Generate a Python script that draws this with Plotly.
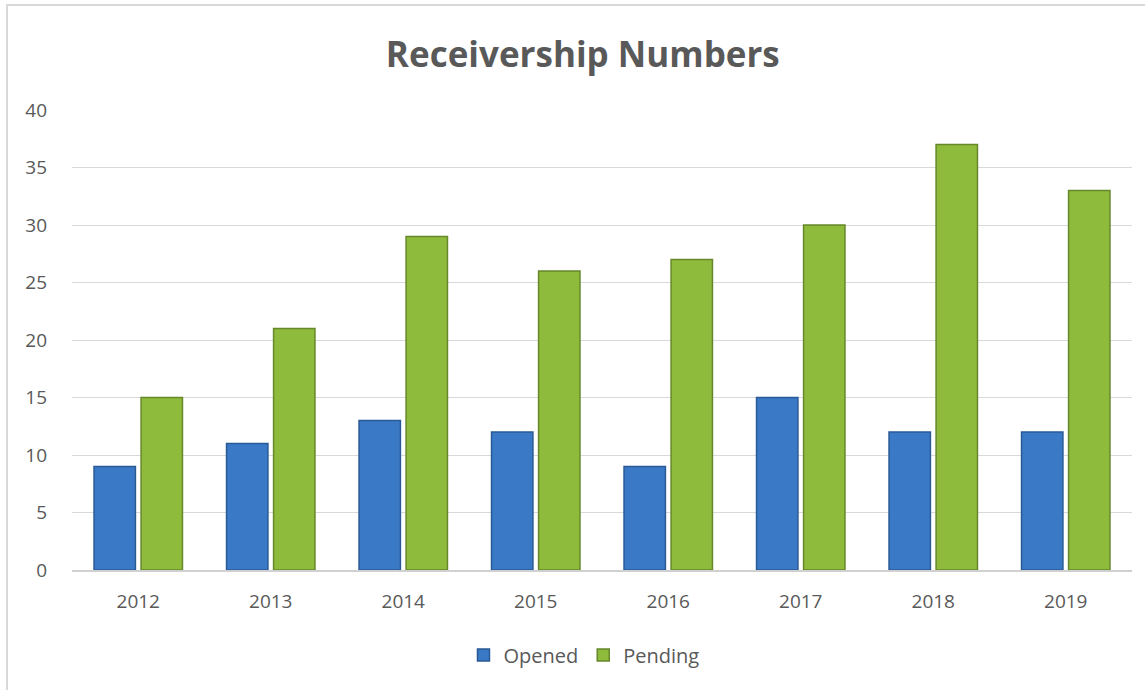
import plotly.graph_objects as go

years = ["2012", "2013", "2014", "2015", "2016", "2017", "2018", "2019"]
opened = [9, 11, 13, 12, 9, 15, 12, 12]
pending = [15, 21, 29, 26, 27, 30, 37, 33]

fig = go.Figure()
fig.add_trace(go.Bar(
    name="Opened", x=years, y=opened,
    marker=dict(color="#3a79c6", line=dict(color="#2a5a96", width=1.5)),
))
fig.add_trace(go.Bar(
    name="Pending", x=years, y=pending,
    marker=dict(color="#8fbb3d", line=dict(color="#66882a", width=1.5)),
))

fig.update_layout(
    width=1145, height=690,
    margin=dict(l=72, r=13, t=110, b=120),
    paper_bgcolor="white", plot_bgcolor="white",
    font=dict(family="Open Sans", color="#595959", size=19),
    title=dict(text="<b>Receivership Numbers</b>", x=0.509, xanchor="center",
               y=0.92, yanchor="middle", font=dict(size=35, color="#595959")),
    barmode="group", bargap=0.29, bargroupgap=0.12,
    showlegend=True,
    legend=dict(orientation="h", x=0.483, xanchor="center", y=-0.185, yanchor="middle",
                font=dict(size=20, color="#595959"), itemwidth=30),
    xaxis=dict(showgrid=False, showline=True, linecolor="#d0d0d0", linewidth=1.5,
               ticks="", ticklabelstandoff=13, tickfont=dict(size=19, color="#595959")),
    yaxis=dict(range=[0, 40], dtick=5, showgrid=True, gridcolor="#d9d9d9", gridwidth=1,
               zeroline=False, showline=False, ticks="", ticklabelstandoff=24,
               tickfont=dict(size=19, color="#595959")),
    shapes=[
        dict(type="line", xref="paper", yref="paper", x0=-0.0613, x1=-0.0613, y0=-0.3, y1=1.23,
             line=dict(color="#d9d9d9", width=2)),
        dict(type="line", xref="paper", yref="paper", x0=-0.0613, x1=1.02, y0=1.228, y1=1.228,
             line=dict(color="#d9d9d9", width=2)),
    ],
)

fig.write_html("out.html", config={"displayModeBar": False},
               post_script="document.body.style.margin='0';document.body.style.padding='0';")
